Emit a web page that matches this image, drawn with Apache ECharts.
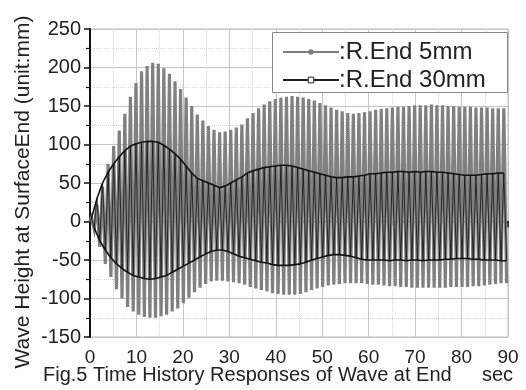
<!DOCTYPE html>
<html>
<head>
<meta charset="utf-8">
<script src="https://cdn.jsdelivr.net/npm/echarts@6/dist/echarts.min.js"></script>
<style>html,body{margin:0;padding:0;background:#fff}#c{width:526px;height:390px}</style>
</head>
<body>
<div id="c"></div>
<script>
// Time axis ticks
const xTicks = [0, 10, 20, 30, 40, 50, 60, 70, 80, 90];
const yTicks = [-150, -100, -50, 0, 50, 100, 150, 200, 250];
const seriesNames = [':R.End 5mm', ':R.End 30mm'];
// oscillation sampled at its crests and troughs (period about 1.2 s)
const peakStep = 0.6; // seconds between a crest and the next trough
// R.End 5mm crests (t = 0.3, 1.5, 2.7, ...)
const grayUpper = [5, 22, 45, 75, 98, 118, 140, 162, 180, 195, 202, 206, 205, 199, 192, 182, 172, 161, 150, 139,
  131, 124, 119, 116, 117, 119, 122, 126, 134, 141, 147, 152, 156, 159, 161, 162, 163, 162, 161, 159,
  157, 154, 151, 148, 145, 143, 141, 140, 141, 142, 143, 145, 146, 147, 148, 149, 149, 150, 151, 151,
  151, 152, 151, 151, 150, 150, 149, 149, 149, 148, 148, 148, 147, 147, 147];
// R.End 5mm troughs (t = 0.9, 2.1, 3.3, ...)
const grayLower = [-10, -33, -55, -72, -88, -100, -111, -117, -121, -124, -125, -125, -123, -121, -117, -113, -106, -99, -92, -86,
  -81, -78, -77, -77, -78, -79, -80, -82, -85, -87, -89, -91, -93, -94, -95, -95, -95, -94, -92, -89,
  -87, -85, -83, -82, -81, -80, -80, -80, -80, -81, -82, -82, -83, -84, -84, -85, -85, -86, -86, -86,
  -86, -86, -86, -86, -85, -85, -85, -85, -84, -84, -83, -82, -81, -80, -80];
// R.End 30mm crests
const blackUpper = [4, 30, 50, 64, 75, 84, 92, 98, 101, 103, 104, 104, 103, 99, 94, 88, 81, 72, 63, 56,
  53, 50, 47, 44, 46, 50, 54, 58, 63, 66, 68, 70, 71, 72, 73, 73, 72, 70, 68, 66,
  64, 62, 60, 58, 57, 57, 58, 58, 59, 60, 62, 62, 63, 64, 64, 65, 65, 64, 65, 64,
  65, 65, 64, 64, 63, 62, 61, 60, 60, 60, 61, 62, 62, 63, 63];
// R.End 30mm troughs
const blackLower = [-8, -25, -37, -47, -55, -61, -66, -70, -72, -74, -75, -74, -72, -70, -66, -62, -58, -54, -50, -46,
  -42, -39, -37, -37, -39, -42, -45, -47, -49, -51, -53, -54, -56, -57, -57, -57, -56, -55, -53, -50,
  -48, -46, -44, -43, -43, -44, -45, -47, -49, -50, -50, -50, -50, -51, -50, -50, -51, -50, -50, -51,
  -50, -50, -50, -49, -49, -48, -48, -48, -49, -49, -50, -50, -50, -51, -51];

function crestPoints(arr, offset) {
  return arr.map((v, i) => [offset + i * 2 * peakStep, v]);
}
function zigzag(up, lo) {
  const pts = [[0, 0]];
  for (let i = 0; i < up.length; i++) {
    pts.push([peakStep / 2 + i * 2 * peakStep, up[i]]);
    pts.push([peakStep * 1.5 + i * 2 * peakStep, lo[i]]);
  }
  return pts;
}

const font = '"Liberation Sans", Arial, sans-serif';
const axisCommon = {
  axisLine: {show: true, lineStyle: {color: '#111', width: 2}},
  axisTick: {show: true, inside: false, length: 6, lineStyle: {color: '#111', width: 1.5}},
  minorTick: {show: true, splitNumber: 2, length: 4, lineStyle: {color: '#111', width: 1.2}},
  splitLine: {show: true, lineStyle: {color: '#c4c4c4', width: 1}},
  minorSplitLine: {show: true, lineStyle: {color: '#d6d6d6', width: 1, type: 'dotted'}}
};
const chart = echarts.init(document.getElementById('c'), null, {renderer: 'canvas'});
chart.setOption({
  animation: false,
  backgroundColor: '#fff',
  grid: {left: 90, right: 18, top: 29, bottom: 53, show: true, borderColor: '#bdbdbd', borderWidth: 1},
  xAxis: Object.assign({
    type: 'value', min: xTicks[0], max: xTicks[xTicks.length - 1], interval: 10,
    axisLabel: {fontSize: 19, color: '#222', fontFamily: font, margin: 11}
  }, axisCommon),
  yAxis: Object.assign({
    type: 'value', min: yTicks[0], max: yTicks[yTicks.length - 1], interval: 50,
    axisLabel: {fontSize: 20, color: '#222', fontFamily: font, margin: 9}
  }, axisCommon),
  legend: {
    orient: 'vertical', left: 282, top: 40, z: 10,
    data: [
      {name: seriesNames[0], lineStyle: {width: 2, color: '#7d7d7d'}},
      {name: seriesNames[1], lineStyle: {width: 2, color: '#222'}, itemStyle: {color: '#fff', borderColor: '#222', borderWidth: 1}}
    ],
    padding: 0, itemWidth: 56, itemHeight: 7, itemGap: 4,
    textStyle: {fontSize: 24, color: '#222', fontFamily: font, padding: [0, 0, 0, -5]}
  },
  graphic: [
    {type: 'rect', z: 8, shape: {x: 272.5, y: 32.5, width: 235, height: 60},
      style: {fill: '#fff', stroke: '#888', lineWidth: 1}},
    {type: 'text', x: 23, y: 192, rotation: Math.PI / 2,
      style: {text: 'Wave Height at SurfaceEnd (unit:mm)', fontSize: 21, fill: '#222', fontFamily: font, align: 'center', verticalAlign: 'middle'}},
    {type: 'text', left: 43, top: 365, style: {text: 'Fig.5 Time History Responses of Wave at End', fontSize: 20, fill: '#222', fontFamily: font}},
    {type: 'text', left: 482, top: 365, style: {text: 'sec', fontSize: 20, fill: '#222', fontFamily: font}}
  ],
  series: [
    {
      name: seriesNames[0], type: 'line', data: zigzag(grayUpper, grayLower),
      symbol: 'circle', symbolSize: 3, showSymbol: false,
      lineStyle: {color: '#808080', width: 3.2, join: 'miter'}, itemStyle: {color: '#808080'}
    },
    {
      type: 'line', data: crestPoints(blackUpper, peakStep / 2), symbol: 'none',
      lineStyle: {width: 0, opacity: 0}, areaStyle: {color: '#fff', opacity: 0.75}
    },
    {
      type: 'line', data: crestPoints(blackLower, peakStep * 1.5), symbol: 'none',
      lineStyle: {width: 0, opacity: 0}, areaStyle: {color: '#fff', opacity: 0.75}
    },
    {
      name: seriesNames[1], type: 'line', data: zigzag(blackUpper, blackLower),
      symbol: 'rect', symbolSize: 4, showSymbol: false,
      lineStyle: {color: '#111', width: 0.8}, itemStyle: {color: '#fff', borderColor: '#111', borderWidth: 1}
    },
    {
      type: 'line', data: crestPoints(blackUpper, peakStep / 2), symbol: 'none',
      lineStyle: {color: '#111', width: 1.6}
    },
    {
      type: 'line', data: crestPoints(blackLower, peakStep * 1.5), symbol: 'none',
      lineStyle: {color: '#111', width: 1.6}
    }
  ]
});
</script>
</body>
</html>
